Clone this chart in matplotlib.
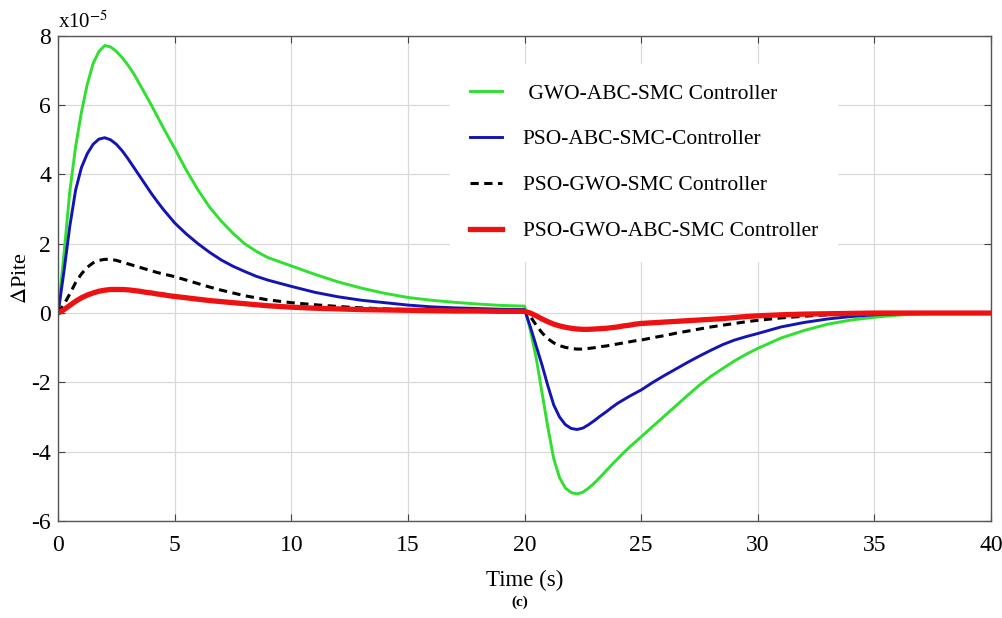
import matplotlib
matplotlib.use('Agg')
import matplotlib.pyplot as plt

# Time samples (s)
t = [0, 0.25, 0.5, 0.75, 1, 1.25, 1.5, 1.75, 2, 2.25, 2.5, 2.75, 3, 3.25, 3.5, 3.75, 4, 4.25, 4.5, 4.75, 5,
     5.5, 6, 6.5, 7, 7.5, 8, 8.5, 9, 9.5, 10,
     11, 12, 13, 14, 15, 16, 17, 18, 19, 20,
     20.25, 20.5, 20.75, 21, 21.25, 21.5, 21.75, 22, 22.25, 22.5, 22.75, 23, 23.25, 23.5, 23.75,
     24, 24.25, 24.5, 24.75, 25,
     25.5, 26, 26.5, 27, 27.5, 28, 28.5, 29, 29.5, 30,
     31, 32, 33, 34, 35, 36, 37, 38, 39, 40]

# Delta Pite, units of 1e-5
gwo_abc = [0, 1.7, 3.5, 4.8, 5.8, 6.6, 7.2, 7.55, 7.72, 7.68, 7.55, 7.37, 7.15, 6.9, 6.6, 6.3, 6.0, 5.68, 5.36, 5.05, 4.75,
           4.12, 3.55, 3.05, 2.65, 2.3, 2.0, 1.78, 1.6, 1.48, 1.36,
           1.12, 0.9, 0.72, 0.57, 0.45, 0.37, 0.31, 0.26, 0.22, 0.2,
           -0.5, -1.3, -2.3, -3.3, -4.2, -4.75, -5.05, -5.18, -5.22, -5.17, -5.05, -4.9, -4.73, -4.55, -4.37,
           -4.2, -4.03, -3.87, -3.72, -3.57,
           -3.27, -2.97, -2.67, -2.37, -2.08, -1.82, -1.6, -1.38, -1.19, -1.02,
           -0.72, -0.5, -0.32, -0.2, -0.12, -0.06, -0.02, 0, 0, 0]
pso_abc = [0, 1.2, 2.5, 3.55, 4.2, 4.6, 4.87, 5.02, 5.06, 5.0, 4.87, 4.68, 4.45, 4.2, 3.95, 3.7, 3.45, 3.22, 3.0, 2.8, 2.6,
           2.28, 2.0, 1.75, 1.53, 1.35, 1.2, 1.06, 0.95, 0.86, 0.77,
           0.6, 0.47, 0.37, 0.3, 0.23, 0.18, 0.15, 0.13, 0.11, 0.1,
           -0.4, -0.95, -1.5, -2.1, -2.65, -3.0, -3.22, -3.33, -3.36, -3.32, -3.22, -3.1, -2.97, -2.85, -2.72,
           -2.6, -2.5, -2.4, -2.31, -2.22,
           -2.0, -1.8, -1.61, -1.42, -1.24, -1.07, -0.91, -0.78, -0.68, -0.59,
           -0.4, -0.27, -0.17, -0.1, -0.05, -0.02, 0, 0, 0, 0]
pso_gwo = [0, 0.25, 0.55, 0.88, 1.13, 1.32, 1.45, 1.52, 1.55, 1.55, 1.52, 1.47, 1.42, 1.37, 1.32, 1.27, 1.22, 1.17, 1.13, 1.09, 1.05,
           0.95, 0.85, 0.75, 0.66, 0.58, 0.5, 0.44, 0.38, 0.34, 0.3,
           0.24, 0.19, 0.15, 0.12, 0.1, 0.08, 0.06, 0.05, 0.04, 0.04,
           -0.1, -0.35, -0.57, -0.74, -0.86, -0.94, -0.99, -1.02, -1.04, -1.04, -1.02, -1.0, -0.97, -0.95, -0.92,
           -0.89, -0.86, -0.83, -0.8, -0.78,
           -0.71, -0.65, -0.58, -0.52, -0.46, -0.4, -0.35, -0.3, -0.25, -0.21,
           -0.14, -0.09, -0.05, -0.03, -0.01, 0, 0, 0, 0, 0]
pso_gwo_abc = [0, 0.1, 0.22, 0.34, 0.44, 0.52, 0.58, 0.63, 0.66, 0.68, 0.68, 0.68, 0.67, 0.65, 0.63, 0.6, 0.58, 0.55, 0.53, 0.5, 0.48,
               0.44, 0.4, 0.36, 0.33, 0.3, 0.27, 0.24, 0.21, 0.19, 0.17,
               0.14, 0.12, 0.1, 0.09, 0.08, 0.07, 0.06, 0.06, 0.05, 0.05,
               0.0, -0.08, -0.17, -0.25, -0.32, -0.37, -0.41, -0.44, -0.46, -0.47, -0.47, -0.46, -0.45, -0.44, -0.42,
               -0.4, -0.37, -0.35, -0.32, -0.3,
               -0.28, -0.26, -0.24, -0.22, -0.2, -0.18, -0.16, -0.13, -0.1, -0.08,
               -0.05, -0.03, -0.02, -0.01, 0, 0, 0, 0, 0, 0]

labels = [' GWO-ABC-SMC Controller', 'PSO-ABC-SMC-Controller',
          'PSO-GWO-SMC Controller', 'PSO-GWO-ABC-SMC Controller']

plt.rcParams['font.family'] = ['Liberation Serif', 'DejaVu Serif']
plt.rcParams['mathtext.fontset'] = 'stix'
plt.rcParams['axes.unicode_minus'] = False

fig = plt.figure(figsize=(10.02, 6.18), dpi=100)
ax = fig.add_axes([0.058, 0.157, 0.931, 0.785])

ax.plot(t, gwo_abc, color='#2fe02f', lw=2.1, label=labels[0])
ax.plot(t, pso_abc, color='#1414b4', lw=2.1, label=labels[1])
ax.plot(t, pso_gwo, color='black', lw=2.2, ls=(0, (2.7, 1.8)), label=labels[2])
ax.plot(t, pso_gwo_abc, color='#ee1111', lw=3.8, label=labels[3])

ax.set_xlim(0, 40)
ax.set_ylim(-6, 8)
ax.set_xticks(range(0, 41, 5))
ax.set_yticks(range(-6, 9, 2))
ax.grid(True, color='#d9d9d9', lw=0.9)
ax.tick_params(direction='in', top=True, right=True, length=5, labelsize=17,
               color='#444444', pad=5)
ax.tick_params(axis='x', pad=10)
for s in ax.spines.values():
    s.set_color('#555555')
    s.set_linewidth(1.0)

ax.text(0.0, 1.005, 'x10$^{-5}$', transform=ax.transAxes, fontsize=15,
        ha='left', va='bottom')
ax.set_ylabel('$\\Delta$Pite', fontsize=16)
ax.yaxis.set_label_coords(-0.029, 0.5)
ax.set_xlabel('Time (s)', fontsize=16.5, labelpad=10)
fig.text(0.519, 0.026, '(c)', fontsize=11, fontweight='bold', ha='center', va='center')

leg = ax.legend(loc='upper left', bbox_to_anchor=(0.409, 0.964), fontsize=15.5,
                handlelength=1.5, labelspacing=1.2, handletextpad=0.95,
                frameon=True, fancybox=False, borderpad=0.9)
leg.get_frame().set_edgecolor('white')
leg.get_frame().set_facecolor('white')
leg.get_frame().set_alpha(1.0)

fig.savefig('out.png', dpi=100)
